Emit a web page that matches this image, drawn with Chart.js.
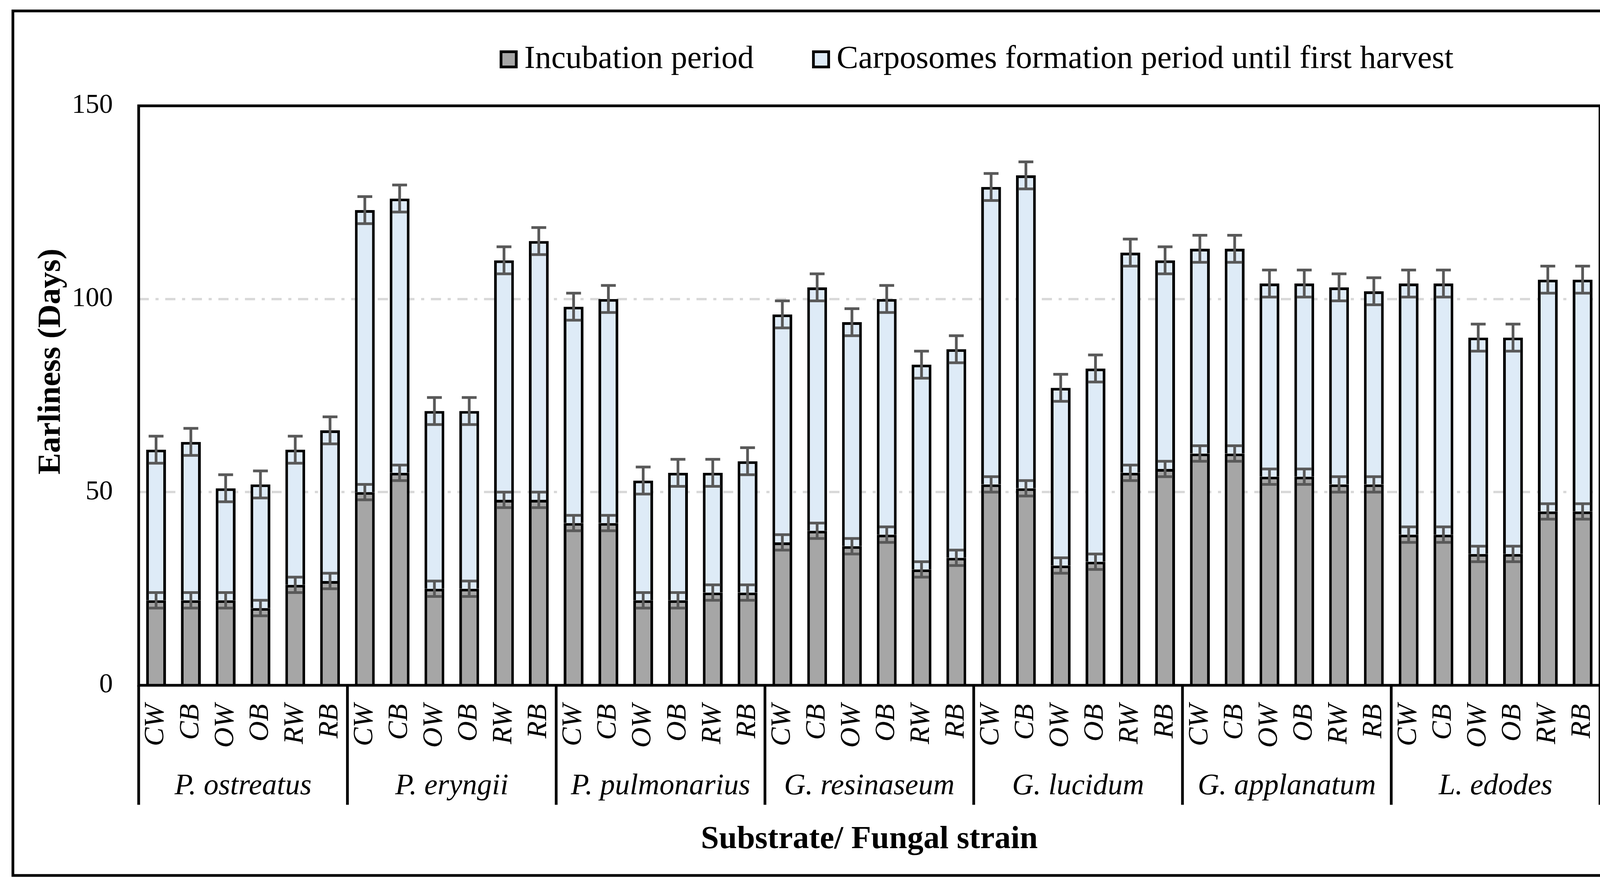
<!DOCTYPE html>
<html>
<head>
<meta charset="utf-8">
<title>Earliness</title>
<script src="https://cdn.jsdelivr.net/npm/chart.js@4.4.1/dist/chart.umd.min.js"></script>
<style>
    html, body { margin: 0; padding: 0; background: #ffffff; }
    #wrap { width: 4214px; height: 2269px; }
</style>
</head>
<body>
<div id="wrap"><canvas id="earlinessChart" width="4214" height="2269"></canvas></div>
<script>
const substrates = ['CW', 'CB', 'OW', 'OB', 'RW', 'RB'];
const strains = ['P. ostreatus', 'P. eryngii', 'P. pulmonarius', 'G. resinaseum', 'G. lucidum', 'G. applanatum', 'L. edodes'];

// days, in category order (strain by strain, substrate by substrate)
const incubation = [
    22, 22, 22, 20, 26, 27,
    50, 55, 25, 25, 48, 48,
    42, 42, 22, 22, 24, 24,
    37, 40, 36, 39, 30, 33,
    52, 51, 31, 32, 55, 56,
    60, 60, 54, 54, 52, 52,
    39, 39, 34, 34, 45, 45
];
const carposomes = [
    39, 41, 29, 32, 35, 39,
    73, 71, 46, 46, 62, 67,
    56, 58, 31, 33, 31, 34,
    59, 63, 58, 61, 53, 54,
    77, 81, 46, 50, 57, 54,
    53, 53, 50, 50, 51, 50,
    65, 65, 56, 56, 60, 60
];
const incubationErr = [
    2, 2, 2, 2, 2, 2,
    2, 2, 2, 2, 2, 2,
    2, 2, 2, 2, 2, 2,
    2, 2, 2, 2, 2, 2,
    2, 2, 2, 2, 2, 2,
    2, 2, 2, 2, 2, 2,
    2, 2, 2, 2, 2, 2
];
const totalErr = [
    3.5, 3.5, 3.5, 3.5, 3.5, 3.5,
    3.5, 3.5, 3.5, 3.5, 3.5, 3.5,
    3.5, 3.5, 3.5, 3.5, 3.5, 3.5,
    3.5, 3.5, 3.5, 3.5, 3.5, 3.5,
    3.5, 3.5, 3.5, 3.5, 3.5, 3.5,
    3.5, 3.5, 3.5, 3.5, 3.5, 3.5,
    3.5, 3.5, 3.5, 3.5, 3.5, 3.5
];
const yTicks = [0, 50, 100, 150];

const SERIF = "'Times New Roman', 'Liberation Serif', serif";

let labels = [];
strains.forEach(function () {
    substrates.forEach(function (s) { labels.push(s); });
});

// error bars on top of each stacked segment
const errorBarPlugin = {
    id: 'errorBars',
    afterDatasetsDraw: function (chart) {
        const ctx = chart.ctx;
        const y = chart.scales.y;
        const bars = chart.getDatasetMeta(0).data;
        ctx.save();
        ctx.strokeStyle = '#595959';
        ctx.lineWidth = 7;
        const cap = 19;
        bars.forEach(function (bar, i) {
            const pairs = [
                [incubation[i], incubationErr[i]],
                [incubation[i] + carposomes[i], totalErr[i]]
            ];
            pairs.forEach(function (p) {
                const yHi = y.getPixelForValue(p[0] + p[1]);
                const yLo = y.getPixelForValue(p[0] - p[1]);
                ctx.beginPath();
                ctx.moveTo(bar.x, yHi);
                ctx.lineTo(bar.x, yLo);
                ctx.moveTo(bar.x - cap, yHi);
                ctx.lineTo(bar.x + cap, yHi);
                ctx.moveTo(bar.x - cap, yLo);
                ctx.lineTo(bar.x + cap, yLo);
                ctx.stroke();
            });
        });
        ctx.restore();
    }
};

// plot frame, strain groups under the axis, y title, outer border and legend
const decorPlugin = {
    id: 'decor',
    afterDraw: function (chart) {
        const ctx = chart.ctx;
        const area = chart.chartArea;
        const x = chart.scales.x;
        const step = x.getPixelForValue(1) - x.getPixelForValue(0);

        ctx.save();
        ctx.strokeStyle = '#000000';
        ctx.lineWidth = 7;
        ctx.strokeRect(area.left, area.top, area.right - area.left, area.bottom - area.top);

        // group separators + strain names
        const sepBottom = 2061;
        ctx.beginPath();
        for (let g = 0; g <= strains.length; g++) {
            const sx = g < strains.length
                ? x.getPixelForValue(g * substrates.length) - step / 2
                : x.getPixelForValue(g * substrates.length - 1) + step / 2;
            ctx.moveTo(sx, area.bottom);
            ctx.lineTo(sx, sepBottom);
        }
        ctx.stroke();

        ctx.fillStyle = '#000000';
        ctx.font = 'italic 76px ' + SERIF;
        ctx.textAlign = 'center';
        ctx.textBaseline = 'middle';
        strains.forEach(function (name, g) {
            const first = x.getPixelForValue(g * substrates.length);
            const last = x.getPixelForValue(g * substrates.length + substrates.length - 1);
            ctx.fillText(name, (first + last) / 2, 2014);
        });

        // y axis title (sits a bit above the plot middle in the original)
        ctx.save();
        ctx.translate(132, 926);
        ctx.rotate(-Math.PI / 2);
        ctx.font = 'bold 83px ' + SERIF;
        ctx.fillText('Earliness (Days)', 0, 0);
        ctx.restore();

        // border around the whole figure
        ctx.lineWidth = 7;
        ctx.strokeRect(33, 28, 4175 - 33, 2242 - 28);

        // legend
        ctx.font = '83px ' + SERIF;
        ctx.textAlign = 'left';
        const box = 46, textGap = 17, itemGap = 149;
        const items = chart.data.datasets;
        let total = 0;
        items.forEach(function (ds, i) {
            total += box + textGap + ctx.measureText(ds.label).width;
            if (i < items.length - 1) total += itemGap;
        });
        let lx = 2500 - total / 2;
        const ly = 152;
        items.forEach(function (ds) {
            ctx.fillStyle = ds.backgroundColor;
            ctx.fillRect(lx, ly - box / 2, box, box);
            ctx.lineWidth = 7;
            ctx.strokeStyle = '#000000';
            ctx.strokeRect(lx + 3.5, ly - box / 2 + 3.5, box - 7, box - 7);
            ctx.fillStyle = '#000000';
            ctx.fillText(ds.label, lx + box + textGap, ly);
            lx += box + textGap + ctx.measureText(ds.label).width + itemGap;
        });
        ctx.restore();
    }
};

function initEarlinessChart() {
    const ctx = document.getElementById('earlinessChart').getContext('2d');

    new Chart(ctx, {
        type: 'bar',
        data: {
            labels: labels,
            datasets: [{
                label: 'Incubation period',
                data: incubation,
                backgroundColor: '#a6a6a6',
                borderColor: '#000000',
                borderWidth: 7
            }, {
                label: 'Carposomes formation period until first harvest',
                data: carposomes,
                backgroundColor: '#deebf7',
                borderColor: '#000000',
                borderWidth: 7
            }]
        },
        options: {
            responsive: false,
            maintainAspectRatio: false,
            devicePixelRatio: 1,
            animation: false,
            layout: {
                padding: { top: 271, left: 40, right: 118, bottom: 69 }
            },
            datasets: {
                bar: {
                    categoryPercentage: 1.0,
                    barPercentage: 0.57
                }
            },
            plugins: {
                legend: { display: false },
                tooltip: { enabled: false }
            },
            scales: {
                x: {
                    stacked: true,
                    grid: { display: false },
                    border: { display: false },
                    ticks: {
                        autoSkip: false,
                        maxRotation: 90,
                        minRotation: 90,
                        padding: 40,
                        color: '#000000',
                        font: { family: SERIF, size: 72, style: 'italic' }
                    },
                    title: {
                        display: true,
                        text: 'Substrate/ Fungal strain',
                        color: '#000000',
                        font: { family: SERIF, size: 83, weight: 'bold' },
                        padding: { top: 0, bottom: 0 }
                    },
                    afterFit: function (scale) { scale.height = 445; }
                },
                y: {
                    stacked: true,
                    min: 0,
                    max: 150,
                    afterBuildTicks: function (scale) {
                        scale.ticks = yTicks.map(function (v) { return { value: v }; });
                    },
                    grid: {
                        drawTicks: false,
                        lineWidth: 6,
                        color: function (c) {
                            return (c.tick && c.tick.value > 0 && c.tick.value < 150) ? '#d9d9d9' : 'rgba(0,0,0,0)';
                        }
                    },
                    border: { display: false, dash: [26, 17, 8, 17] },
                    ticks: {
                        padding: 66,
                        color: '#000000',
                        font: { family: SERIF, size: 70 }
                    },
                    title: { display: false },
                    afterFit: function (scale) { scale.width = 315; }
                }
            }
        },
        plugins: [errorBarPlugin, decorPlugin]
    });
}

document.addEventListener('DOMContentLoaded', initEarlinessChart);
</script>
</body>
</html>
